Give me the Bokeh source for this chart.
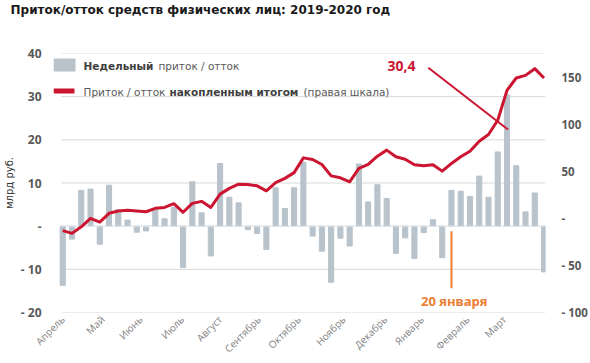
import math
from bokeh.plotting import figure
from bokeh.models import Range1d, LinearAxis, FixedTicker, Label, BoxAnnotation, Title
from bokeh.embed import file_html
from bokeh.resources import INLINE

# ---------------- data ----------------
title_text = "Приток/отток средств физических лиц: 2019-2020 год"

weekly = [-13.7, -3.0, 8.3, 8.6, -4.2, 9.5, 3.8, 1.4, -1.4, -1.1,
          4.2, 1.7, 4.3, -9.6, 10.3, 3.1, -6.9, 14.5, 6.7, 5.4,
          -0.8, -1.7, -5.4, 8.9, 4.1, 8.9, 14.8, -2.3, -5.8, -13.0,
          -2.8, -4.6, 14.4, 5.6, 9.6, 6.4, -6.3, -2.7, -7.5, -1.5,
          1.5, -7.3, 8.3, 8.1, 6.9, 11.6, 6.7, 17.2, 30.4, 14.0,
          3.3, 7.7, -10.6]

cumulative = [-13, -16, -9, 0, -4, 5.3, 7.7, 8.5, 7.7, 7,
              10.6, 11.6, 15.5, 6.4, 15.9, 18, 11.6, 25.7, 31.8, 36.3,
              36, 34.5, 29.2, 38, 42.4, 48.5, 64.2, 62.5, 57.2, 45.1,
              43, 38.8, 53, 57.2, 66, 72.4, 65.3, 62.8, 56.8, 55.7,
              56.8, 50.1, 58.3, 65.3, 71.3, 81.9, 89, 104.1, 135.9, 149,
              151.8, 158.9, 149]

month_labels = ["Апрель", "Май", "Июнь", "Июль", "Август", "Сентябрь",
                "Октябрь", "Ноябрь", "Декабрь", "Январь", "Февраль", "Март"]
month_ticks = [0.0, 4.3, 8.4, 12.9, 17.0, 21.2, 25.5, 30.35, 34.85, 38.8, 43.75, 47.7]

left_ticks = [-20, -10, 0, 10, 20, 30, 40]
left_tick_labels = ["- 20", "- 10", "-", "10", "20", "30", "40"]
right_ticks = [-100, -50, 0, 50, 100, 150]
right_tick_labels = ["- 100", "- 50", "-", "50", "100", "150"]

legend_bar = "Недельный"
legend_bar_rest = "приток / отток"
legend_line_a = "Приток / отток"
legend_line_b = "накопленным итогом"
legend_line_c = "(правая шкала)"
y_title = "млрд руб."
peak_label = "30,4"
peak_week = 48
marker_label = "20 января"
marker_week = 42

weeks = list(range(len(weekly)))

# ---------------- figure ----------------
W, H = 590, 363
FL, FR, FT, FB = 52, 548, 53, 313     # frame edges in page pixels
X0, X1 = -1.0, 52.16                  # x range (bar 0 sits at page x ~61)
GRID_X0 = -0.14                       # gridlines start just left of first bar
p = figure(width=W, height=H, output_backend="svg", toolbar_location=None,
           x_range=Range1d(X0, X1), y_range=Range1d(-20, 40),
           min_border_left=FL, min_border_right=W - FR, min_border_top=FT,
           min_border_bottom=H - FB)
p.extra_y_ranges = {"right": Range1d(-100, 175)}
p.outline_line_color = None
p.background_fill_color = "white"
p.border_fill_color = "white"

# spacer between frame and title, then the title itself
p.add_layout(Title(text=" ", text_font_size="1px", standoff=34), "above")
p.title.text = title_text
p.title.text_font = "DejaVu Sans"
p.title.text_font_size = "12px"
p.title.text_font_style = "bold"
p.title.text_color = "#1a1a1a"
p.title.align = "left"
p.title.offset = 9 - FL
p.title.standoff = 0

p.xgrid.visible = False
p.ygrid.visible = False

# x axis (months)
xa = p.xaxis[0]
xa.ticker = FixedTicker(ticks=month_ticks)
xa.major_label_overrides = {t: l for t, l in zip(month_ticks, month_labels)}
xa.major_label_orientation = math.pi / 4
xa.axis_line_color = None
xa.major_tick_line_color = None
xa.minor_tick_line_color = None
xa.major_tick_out = 0
xa.major_tick_in = 0
xa.major_label_text_font = "Open Sans"
xa.major_label_text_font_size = "10px"
xa.major_label_text_color = "#7f7f7f"
xa.major_label_standoff = 5

# left axis
ya = p.yaxis[0]
ya.ticker = FixedTicker(ticks=left_ticks)
ya.major_label_overrides = {t: l for t, l in zip(left_ticks, left_tick_labels)}
ya.axis_line_color = None
ya.major_tick_line_color = None
ya.minor_tick_line_color = None
ya.major_tick_out = 0
ya.major_tick_in = 0
ya.major_label_text_font = "Open Sans"
ya.major_label_text_font_size = "12px"
ya.major_label_text_font_style = "bold"
ya.major_label_text_color = "#595959"
ya.major_label_standoff = 12
ya.axis_label = y_title
ya.axis_label_text_font = "DejaVu Sans"
ya.axis_label_text_font_size = "10px"
ya.axis_label_text_font_style = "normal"
ya.axis_label_text_color = "#333333"
ya.axis_label_standoff = 3

# right axis
ra = LinearAxis(y_range_name="right", ticker=FixedTicker(ticks=right_ticks))
ra.major_label_overrides = {t: l for t, l in zip(right_ticks, right_tick_labels)}
ra.axis_line_color = None
ra.major_tick_line_color = None
ra.minor_tick_line_color = None
ra.major_tick_out = 0
ra.major_tick_in = 0
ra.major_label_text_font = "Open Sans"
ra.major_label_text_font_size = "11.5px"
ra.major_label_text_font_style = "bold"
ra.major_label_text_color = "#595959"
ra.major_label_standoff = 16
p.add_layout(ra, "right")

BAR = "#B9C3CB"
RED = "#CC1530"
ORANGE = "#ED7D31"

# horizontal gridlines at the left-axis ticks
p.segment(x0=[GRID_X0] * len(left_ticks), y0=left_ticks,
          x1=[X1] * len(left_ticks), y1=left_ticks,
          line_color="#d9d9d9", line_width=1)

p.vbar(x=weeks, top=weekly, bottom=0, width=0.55, color=BAR)
p.segment(x0=[GRID_X0], y0=[0], x1=[X1], y1=[0], line_color="#e6eaee", line_width=1)
p.line(weeks, cumulative, y_range_name="right", line_color=RED, line_width=3,
       line_join="round")

# annotations in data space
p.segment(x0=[39.5], y0=[36.7], x1=[peak_week + 0.1], y1=[22.4], line_color=RED, line_width=2)
p.add_layout(Label(x=36.6, y=37.0, text=peak_label, text_font="Open Sans",
                   text_font_size="14px", text_font_style="bold", text_color=RED,
                   text_align="center", text_baseline="middle"))
p.segment(x0=[marker_week], y0=[-1.2], x1=[marker_week], y1=[-14.4],
          line_color=ORANGE, line_width=2)
p.add_layout(Label(x=marker_week + 0.3, y=-17.4, text=marker_label, text_font="Open Sans",
                   text_font_size="13px", text_font_style="bold", text_color=ORANGE,
                   text_align="center", text_baseline="middle"))

# screen-space helpers (page pixels -> frame-relative)
def fx(X):
    return X - FL
def fy(Y):
    return FB - Y

def slabel(X, Y, text, size="10.5px", bold=False, color="#404040", font="DejaVu Sans",
           align="left", angle=0.0):
    p.add_layout(Label(x=fx(X), y=fy(Y), x_units="screen", y_units="screen",
                       text=text, text_font=font, text_font_size=size,
                       text_font_style="bold" if bold else "normal",
                       text_color=color, text_align=align, text_baseline="middle",
                       angle=angle))

# legend (drawn inside the frame)
p.add_layout(BoxAnnotation(left=fx(52), right=fx(74), top=fy(59), bottom=fy(72),
                           left_units="screen", right_units="screen",
                           top_units="screen", bottom_units="screen",
                           fill_color=BAR, fill_alpha=1, line_color=None))
p.add_layout(BoxAnnotation(left=fx(52), right=fx(73), top=fy(89), bottom=fy(94),
                           left_units="screen", right_units="screen",
                           top_units="screen", bottom_units="screen",
                           fill_color=RED, fill_alpha=1, line_color=None))
slabel(82, 66, legend_bar, bold=True, color="#404040")
slabel(157, 66, legend_bar_rest, color="#595959")
slabel(82, 92, legend_line_a, color="#595959")
slabel(168, 92, legend_line_b, bold=True, color="#404040")
slabel(302, 92, legend_line_c, color="#595959")

open("out.html", "w").write(file_html(p, INLINE))
